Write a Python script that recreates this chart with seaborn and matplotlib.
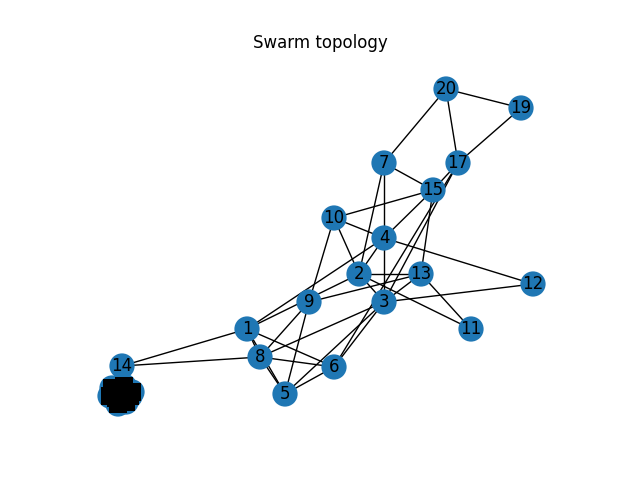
import matplotlib
matplotlib.use('Agg')
import matplotlib.pyplot as plt
import seaborn as sns
import pandas as pd

# node positions (pixel coordinates)
nodes = ['20', '19', '7', '17', '15', '10', '4', '2', '13', '12', '9', '3', '11',
         '1', '8', '14', '6', '5']
node_x = [446, 521, 384, 458, 433, 334, 384, 359, 421, 533, 309, 384, 471,
          247, 260, 122, 334, 285]
node_y = [89, 108, 163, 163, 190, 218, 238, 274, 274, 284, 302, 302, 329,
          329, 357, 366, 367, 394]

edges = [('20', '19'), ('20', '7'), ('20', '17'), ('19', '17'), ('7', '15'),
         ('7', '2'), ('7', '4'), ('4', '3'), ('17', '15'), ('17', '3'),
         ('15', '13'), ('15', '10'), ('15', '4'), ('10', '4'), ('10', '2'),
         ('10', '9'), ('4', '12'), ('4', '2'), ('4', '1'), ('2', '13'),
         ('2', '3'), ('2', '11'), ('2', '1'), ('9', '13'), ('13', '3'),
         ('13', '11'), ('3', '12'), ('3', '8'), ('3', '6'), ('3', '5'),
         ('9', '8'), ('9', '5'), ('1', '14'), ('1', '8'), ('1', '6'),
         ('1', '5'), ('8', '5'), ('8', '14'), ('8', '6'), ('6', '5'),
         ('17', '6')]

# overlapping nodes packed at lower left
blob_nodes = ['0', '16', '18', '21', '22', '23', '24', '25']
blob_x = [110, 118, 126, 132, 112, 124, 130, 116]
blob_y = [396, 404, 402, 392, 388, 386, 396, 398]

df = pd.DataFrame({'node': nodes, 'x': node_x, 'y': node_y})
pos = {n: (x, y) for n, x, y in zip(nodes, node_x, node_y)}

fig = plt.figure(figsize=(6.4, 4.8), dpi=100)
ax = fig.add_axes([0, 0, 1, 1])
for a, b in edges:
    ax.plot([pos[a][0], pos[b][0]], [pos[a][1], pos[b][1]], color='black', lw=1, zorder=1)

sns.scatterplot(data=df, x='x', y='y', s=330, color='#1f77b4', edgecolor='none',
                ax=ax, zorder=2, legend=False)
sns.scatterplot(x=blob_x, y=blob_y, s=330, color='#1f77b4', edgecolor='none',
                ax=ax, zorder=2, legend=False)
# dense edges and labels inside the blob render as a black mass
sns.scatterplot(x=blob_x, y=blob_y, s=170, marker='s', color='black', edgecolor='none',
                ax=ax, zorder=3, legend=False)
for n, x, y in zip(blob_nodes, blob_x, blob_y):
    ax.text(x, y, n, ha='center', va='center', fontsize=12, zorder=4)

for n, x, y in zip(nodes, node_x, node_y):
    ax.text(x, y, n, ha='center', va='center', fontsize=12, zorder=4)

ax.set_xlim(0, 640)
ax.set_ylim(480, 0)
ax.axis('off')
fig.text(0.5, 1 - 43 / 480, 'Swarm topology', ha='center', va='center', fontsize=12)
fig.savefig('out.png', dpi=100)
